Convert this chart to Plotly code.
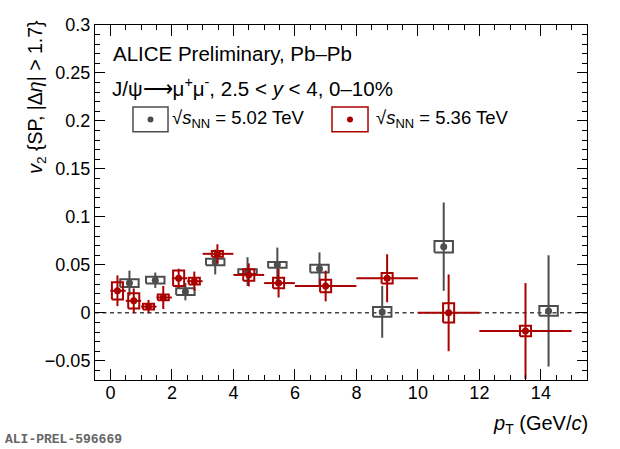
import plotly.graph_objects as go

# sqrt(sNN) = 5.02 TeV (grey)
pt_502 = [0.62, 1.46, 2.44, 3.41, 4.46, 5.43, 6.8, 8.84, 10.84, 14.25]
v2_502 = [0.031, 0.034, 0.022, 0.053, 0.043, 0.050, 0.046, 0.001, 0.069, 0.002]
stat_502 = [0.013, 0.008, 0.009, 0.013, 0.015, 0.018, 0.017, 0.027, 0.046, 0.058]
syst_502 = [0.004, 0.0035, 0.0035, 0.0035, 0.0025, 0.003, 0.004, 0.005, 0.006, 0.005]

# sqrt(sNN) = 5.36 TeV (red)
pt_536 = [0.23, 0.76, 1.24, 1.72, 2.22, 2.73, 3.48, 4.5, 5.47, 7.0, 9.0, 11.0, 13.5]
bin_lo_536 = [0, 0.5, 1, 1.5, 2, 2.5, 3, 4, 5, 6, 8, 10, 12]
bin_hi_536 = [0.5, 1, 1.5, 2, 2.5, 3, 4, 5, 6, 8, 10, 12, 15]
v2_536 = [0.023, 0.0125, 0.0065, 0.016, 0.036, 0.033, 0.0615, 0.0395, 0.031, 0.028, 0.036, 0.0, -0.019]
stat_536 = [0.016, 0.013, 0.007, 0.012, 0.010, 0.010, 0.010, 0.012, 0.015, 0.016, 0.025, 0.040, 0.05]
syst_536 = [0.009, 0.008, 0.003, 0.003, 0.008, 0.0035, 0.003, 0.006, 0.0055, 0.0065, 0.0055, 0.010, 0.0055]

GREY = "#4d4d4d"
RED = "#aa0000"
FONT = "Liberation Sans"


def box_path(xs, ys, dx, dys):
    # rectangles for the systematic uncertainties
    px, py = [], []
    for x, y, dy in zip(xs, ys, dys):
        px += [x - dx, x + dx, x + dx, x - dx, x - dx, None]
        py += [y - dy, y - dy, y + dy, y + dy, y - dy, None]
    return px, py


fig = go.Figure()

# grey series
fig.add_trace(go.Scatter(
    x=pt_502, y=v2_502, mode="markers",
    marker=dict(size=0.1, color=GREY),
    error_y=dict(type="data", array=stat_502, color=GREY, thickness=2, width=0),
    showlegend=False, hoverinfo="skip"
))
bx, by = box_path(pt_502, v2_502, 0.3, syst_502)
fig.add_trace(go.Scatter(x=bx, y=by, mode="lines", line=dict(color=GREY, width=2),
                         showlegend=False, hoverinfo="skip"))
fig.add_trace(go.Scatter(x=pt_502, y=v2_502, mode="markers",
                         marker=dict(size=7, color=GREY), showlegend=False))

# red series
fig.add_trace(go.Scatter(
    x=pt_536, y=v2_536, mode="markers",
    marker=dict(size=0.1, color=RED),
    error_y=dict(type="data", array=stat_536, color=RED, thickness=2, width=0),
    error_x=dict(type="data", symmetric=False,
                 array=[h - x for h, x in zip(bin_hi_536, pt_536)],
                 arrayminus=[x - l for l, x in zip(bin_lo_536, pt_536)],
                 color=RED, thickness=2, width=0),
    showlegend=False, hoverinfo="skip"
))
bx, by = box_path(pt_536, v2_536, 0.18, syst_536)
fig.add_trace(go.Scatter(x=bx, y=by, mode="lines", line=dict(color=RED, width=2),
                         showlegend=False, hoverinfo="skip"))
fig.add_trace(go.Scatter(x=pt_536, y=v2_536, mode="markers",
                         marker=dict(size=7, color=RED), showlegend=False))

# zero line
fig.add_shape(type="line", xref="paper", yref="y", x0=0, x1=1, y0=0, y1=0,
              line=dict(color="#444444", width=1.5, dash="4px,3.5px"), layer="below")

axis_common = dict(
    showgrid=False, zeroline=False, showline=True, linecolor="black", linewidth=1,
    mirror="allticks", ticks="inside", tickcolor="black",
    tickfont=dict(family=FONT, size=18, color="black"),
)
fig.update_xaxes(range=[-0.5, 15.5], dtick=2, tick0=0, ticklen=11,
                 ticklabelstandoff=-4,
                 minor=dict(dtick=0.5, ticks="inside", ticklen=5, tickcolor="black"),
                 **axis_common)
fig.update_yaxes(range=[-0.07, 0.3], dtick=0.05, tick0=0, ticklen=10,
                 tickformat="~g",
                 minor=dict(dtick=0.01, ticks="inside", ticklen=5, tickcolor="black"),
                 **axis_common)

ann = []
ann.append(dict(text="ALICE Preliminary, Pb\u2013Pb", x=0.033, y=0.921,
                xanchor="left", yanchor="middle", font=dict(size=20.5)))
ann.append(dict(text="J/\u03c8\u27f6\u03bc<sup>+</sup>\u03bc<sup>-</sup>, 2.5 &lt; <i>y</i> &lt; 4, 0\u201310%",
                x=0.031, y=0.826, xanchor="left", yanchor="middle", font=dict(size=20.5)))
ann.append(dict(text="\u221a<i>s</i><sub>NN</sub> = 5.02 TeV", x=0.152, y=0.734,
                xanchor="left", yanchor="middle", font=dict(size=18.5)))
ann.append(dict(text="\u221a<i>s</i><sub>NN</sub> = 5.36 TeV", x=0.567, y=0.734,
                xanchor="left", yanchor="middle", font=dict(size=18.5)))
ann.append(dict(text="<i>v</i><sub>2</sub> {SP, |\u0394<i>\u03b7</i>| &gt; 1.7}",
                x=-0.118, y=1.02, xanchor="center", yanchor="top", textangle=-90,
                font=dict(size=19.5)))
ann.append(dict(text="<i>p</i><sub>T</sub> (GeV/<i>c</i>)", x=1.006, y=-0.124,
                xanchor="right", yanchor="middle", font=dict(size=20)))
for a in ann:
    a.update(xref="paper", yref="paper", showarrow=False)
    a["font"].update(family=FONT, color="black")
ann.append(dict(text="<b>ALI-PREL-596669</b>", xref="paper", yref="paper",
                x=-0.187, y=-0.169, xanchor="left", yanchor="middle", showarrow=False,
                font=dict(family="Liberation Mono", size=13, color="#666666")))
fig.update_layout(annotations=ann)

# legend boxes
for x0, x1, col in [(0.0772, 0.1484, GREY), (0.4817, 0.5549, RED)]:
    fig.add_shape(type="rect", xref="paper", yref="paper", x0=x0, x1=x1,
                  y0=0.699, y1=0.769, line=dict(color=col, width=1.5))
    cx = (x0 + x1) / 2
    fig.add_shape(type="circle", xref="paper", yref="paper",
                  x0=cx - 3 / 492, x1=cx + 3 / 492, y0=0.734 - 3 / 355, y1=0.734 + 3 / 355,
                  fillcolor=col, line=dict(color=col, width=0))

fig.update_layout(
    width=620, height=449,
    margin=dict(l=95, r=33, t=25, b=69),
    plot_bgcolor="white", paper_bgcolor="white",
    showlegend=False,
)

# page body has a default 8px margin; drop it so the figure fills the window
fig.write_html("out.html", config={"displayModeBar": False},
               post_script="document.body.style.margin='0';")
